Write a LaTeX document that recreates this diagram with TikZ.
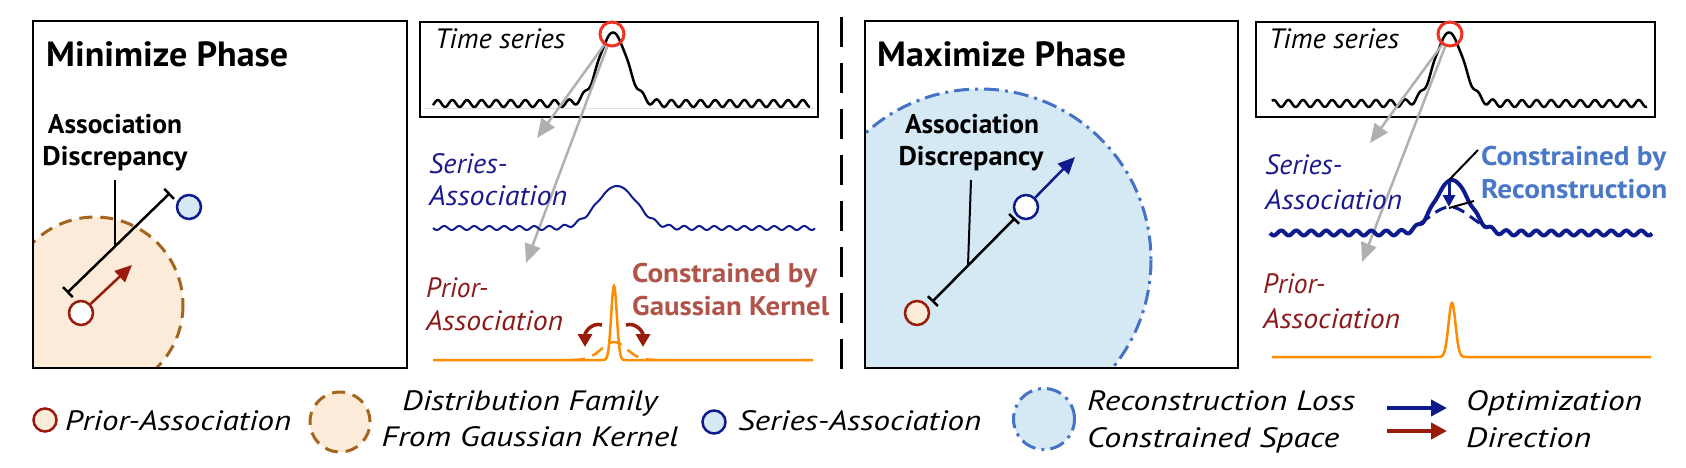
\documentclass[tikz,border=0pt]{standalone}
\usepackage{fontspec}
\usepackage{graphicx}
\setmainfont{PT Sans}
\usetikzlibrary{arrows.meta}
\newcommand{\mkwidth}[2]{\resizebox{#1}{\height}{#2}}
\definecolor{cdred}{HTML}{9A1B0A}
\definecolor{cdblue}{HTML}{0D1B8E}
\definecolor{cpeach}{HTML}{FCEBD9}
\definecolor{cbrown}{HTML}{A5641E}
\definecolor{clblue}{HTML}{D5E9F5}
\definecolor{cdashblue}{HTML}{4472C4}
\definecolor{cpriortext}{HTML}{8B1A1A}
\definecolor{cseriestext}{HTML}{1A1A8C}
\definecolor{cgausslbl}{HTML}{B0544A}
\definecolor{creconlbl}{HTML}{4A78C8}
\definecolor{corange}{HTML}{FF8C00}
\definecolor{cgray}{HTML}{B0B0B0}
\definecolor{cpeak}{HTML}{EE3322}
\begin{document}
\begin{tikzpicture}[x=1pt,y=-1pt,
  phasebox/.style={draw=black, line width=2.8pt},
  tsbox/.style={draw=black, line width=2pt},
  titletext/.style={font=\fontsize{35}{40}\selectfont\bfseries, anchor=base west, inner sep=0},
  adtext/.style={font=\fontsize{27}{30}\selectfont\bfseries, anchor=base, inner sep=0},
  lbltext/.style={font=\fontsize{28}{32}\selectfont\itshape, anchor=base west, inner sep=0},
  constext/.style={font=\fontsize{27}{30}\selectfont\bfseries, anchor=base west, inner sep=0},
  legtext/.style={font=\fontsize{28}{30}\selectfont\itshape, anchor=base west, inner sep=0},
  priorpt/.style={circle, draw=cdred, line width=2.5pt, minimum size=24pt, inner sep=0},
  seriespt/.style={circle, draw=cdblue, line width=2.5pt, minimum size=24pt, inner sep=0},
  peakcirc/.style={circle, draw=cpeak, line width=3pt, minimum size=24pt, inner sep=0},
  grayarrow/.style={draw=cgray, line width=2.5pt, -{Triangle[length=19pt,width=16pt]}},
  redarr/.style={draw=cdred, line width=2.5pt, -{Triangle[length=17pt,width=15pt]}},
  bluearr/.style={draw=cdblue, line width=2.5pt, -{Triangle[length=17pt,width=15pt]}},
  curvarr/.style={draw=cdred, line width=3.5pt, -{Triangle[length=13pt,width=14pt]}},
  discbar/.style={draw=black, line width=2.5pt, {Bar[width=14pt]}-{Bar[width=14pt]}},
  callout/.style={draw=black, line width=2pt},
  gaussdash/.style={dash pattern=on 13pt off 8pt},
  recondash/.style={dash pattern=on 15pt off 6pt on 3pt off 6pt},
]
\useasboundingbox (0,0) rectangle (1686,468);

% ---------------- Minimize panel ----------------
\begin{scope}
  \clip (33,21) rectangle (407,368);
  \filldraw[fill=cpeach, draw=cbrown, line width=3pt, gaussdash] (95,305) circle[radius=88];
\end{scope}
\draw[phasebox] (33,21) rectangle (407,368);
\node[titletext] (mintitle) at (46,67) {\mkwidth{242pt}{Minimize Phase}};
\node[adtext] (minad1) at (115,133) {\mkwidth{134pt}{Association}};
\node[adtext] (minad2) at (115,165) {\mkwidth{145pt}{Discrepancy}};
\coordinate (minbarA) at (67,293);
\coordinate (minbarB) at (170,193);
\coordinate (mincallTop) at (115,180);
\coordinate (mincallFoot) at (115,246.5);
\draw[callout] (mincallTop) -- (mincallFoot);
\draw[discbar] (minbarA) -- (minbarB);
\node[seriespt, fill=clblue] (minseries) at (189,207) {};
\node[priorpt, fill=white] (minprior) at (81,313) {};
\coordinate (minredtip) at (132,265);
\draw[redarr] (minprior) -- (minredtip);

% ---------------- Left time series ----------------
\draw[tsbox] (420,22) rectangle (818,117);
\draw[gray!25, line width=1pt] (425,109) -- (815,109);
\node[lbltext] (ts1) at (435,49) {\mkwidth{130pt}{Time series}};
\draw[black, line width=2.5pt, line join=round]
  plot[domain=433:810, samples=420, smooth]
  (\x, {103.5 - 71*exp(-(min(abs((\x-613)/20),5))^2) + 3.5*(1-exp(-(min(abs((\x-613)/20),5))^2))*sin(((\x-433)/14.6)*360+152)});
\node[peakcirc] (pk1) at (612,34) {};
\coordinate (ga1a) at (537,138);
\coordinate (ga1b) at (526,263);
\draw[grayarrow] (pk1) -- (ga1a);
\draw[grayarrow] (pk1) -- (ga1b);

\node[lbltext, text=cseriestext] (sa1a) at (429,173) {\mkwidth{78pt}{Series-}};
\node[lbltext, text=cseriestext] (sa1b) at (429,205) {\mkwidth{138pt}{Association}};
\draw[cdblue, line width=2pt]
  plot[domain=433:815, samples=400, smooth]
  (\x, {228 - 42*exp(-(min(abs((\x-617)/28),5))^2) + 2*(1-exp(-(min(abs((\x-617)/28),5))^2))*sin(((\x-433)/15)*360)});

\node[lbltext, text=cpriortext] (pa1a) at (426,297) {\mkwidth{62pt}{Prior-}};
\node[lbltext, text=cpriortext] (pa1b) at (426,330) {\mkwidth{137pt}{Association}};
\draw[corange, line width=2.5pt, gaussdash]
  plot[domain=572:656, samples=60, smooth] (\x, {360 - 18*exp(-((\x-614)/18)^2)});
\draw[corange, line width=2.5pt]
  (433,360) -- plot[domain=596:632, samples=73, smooth] (\x, {360 - 74*exp(-(min(abs((\x-614)/4),5))^2)}) -- (813,360);
\coordinate (cl1) at (602,325);
\coordinate (cl2) at (585,347);
\coordinate (cr1) at (626,325);
\coordinate (cr2) at (643,347);
\draw[curvarr] (cl1) .. controls (592,322) and (585,332) .. (cl2);
\draw[curvarr] (cr1) .. controls (636,322) and (643,332) .. (cr2);
\node[constext, text=cgausslbl] (gk1) at (632,282) {\mkwidth{185pt}{Constrained by}};
\node[constext, text=cgausslbl] (gk2) at (632,315) {\mkwidth{197pt}{Gaussian Kernel}};

% ---------------- Divider ----------------
\coordinate (divTop) at (841,17);
\coordinate (divBot) at (841,370);
\draw[black, line width=3pt, dash pattern=on 30pt off 16pt] (divTop) -- (divBot);

% ---------------- Maximize panel ----------------
\begin{scope}
  \clip (865,21) rectangle (1238,368);
  \filldraw[fill=clblue, draw=cdashblue, line width=3pt, recondash] (980,260) circle[radius=171];
\end{scope}
\draw[phasebox] (865,21) rectangle (1238,368);
\node[titletext] (maxtitle) at (877,67) {\mkwidth{249pt}{Maximize Phase}};
\node[adtext] (maxad1) at (972,133) {\mkwidth{134pt}{Association}};
\node[adtext] (maxad2) at (971,165) {\mkwidth{145pt}{Discrepancy}};
\coordinate (maxbarA) at (932,302);
\coordinate (maxbarB) at (1015,218);
\coordinate (maxcallTop) at (971,180);
\coordinate (maxcallFoot) at (968,265.5);
\draw[callout] (maxcallTop) -- (maxcallFoot);
\draw[discbar] (maxbarA) -- (maxbarB);
\node[priorpt, fill=cpeach] (maxprior) at (917,313) {};
\node[seriespt, fill=white] (maxseries) at (1026,207) {};
\coordinate (maxbluetip) at (1075,157);
\draw[bluearr] (maxseries) -- (maxbluetip);

% ---------------- Right time series ----------------
\draw[tsbox] (1256,22) rectangle (1655,117);
\node[lbltext] (ts2) at (1269,49) {\mkwidth{130pt}{Time series}};
\draw[black, line width=2.5pt, line join=round]
  plot[domain=1272:1647, samples=420, smooth]
  (\x, {103.5 - 71*exp(-(min(abs((\x-1449)/20),5))^2) + 3.5*(1-exp(-(min(abs((\x-1449)/20),5))^2))*sin(((\x-1272)/14.6)*360+226)});
\node[peakcirc] (pk2) at (1450,34) {};
\coordinate (ga2a) at (1370,143);
\coordinate (ga2b) at (1362,262);
\draw[grayarrow] (pk2) -- (ga2a);
\draw[grayarrow] (pk2) -- (ga2b);

\node[lbltext, text=cseriestext] (sa2a) at (1265,175) {\mkwidth{77pt}{Series-}};
\node[lbltext, text=cseriestext] (sa2b) at (1265,209) {\mkwidth{137pt}{Association}};
\draw[cdblue, line width=4pt]
  plot[domain=1270:1652, samples=420, smooth]
  (\x, {233 - 53*exp(-(min(abs((\x-1452)/24),5))^2) + 2.5*(1-exp(-(min(abs((\x-1452)/24),5))^2))*sin(((\x-1270)/15)*360)});
\draw[cdblue, line width=3pt, dash pattern=on 12pt off 7pt]
  plot[domain=1420:1484, samples=50, smooth] (\x, {233 - 26*exp(-((\x-1450)/30)^2)});
\coordinate (rcA) at (1449,182);
\coordinate (rcB) at (1449,207);
\draw[draw=cdblue, line width=3pt, -{Triangle[length=12pt,width=12pt]}] (rcA) -- (rcB);
\coordinate (rcl1a) at (1478,150);
\coordinate (rcl1b) at (1449,180);
\coordinate (rcl2a) at (1449,208);
\coordinate (rcl2b) at (1474,201);
\draw[callout] (rcl1a) -- (rcl1b);
\draw[callout] (rcl2a) -- (rcl2b);
\node[constext, text=creconlbl] (rc1) at (1481,165) {\mkwidth{185pt}{Constrained by}};
\node[constext, text=creconlbl] (rc2) at (1481,198) {\mkwidth{186pt}{Reconstruction}};

\node[lbltext, text=cpriortext] (pa2a) at (1263,293) {\mkwidth{62pt}{Prior-}};
\node[lbltext, text=cpriortext] (pa2b) at (1263,328) {\mkwidth{137pt}{Association}};
\draw[corange, line width=2.5pt]
  (1272,357) -- plot[domain=1436:1468, samples=65, smooth] (\x, {357 - 54*exp(-(min(abs((\x-1452)/5),5))^2)}) -- (1651,357);

% ---------------- Legend ----------------
\node[priorpt, fill=cpeach, minimum size=23pt] (legprior) at (45,420) {};
\node[legtext] (legpriortxt) at (65,430) {\mkwidth{226pt}{Prior-Association}};
\node[circle, fill=cpeach, draw=cbrown, line width=3pt, gaussdash, minimum size=60pt, inner sep=0] (leggauss) at (340,422) {};
\node[legtext, anchor=base] (leggauss1) at (530,410) {\mkwidth{255pt}{Distribution Family}};
\node[legtext, anchor=base] (leggauss2) at (530,446) {\mkwidth{297pt}{From Gaussian Kernel}};
\node[seriespt, fill=clblue, minimum size=23pt] (legseries) at (714,422) {};
\node[legtext] (legseriestxt) at (738,430) {\mkwidth{243pt}{Series-Association}};
\node[circle, fill=clblue, draw=cdashblue, line width=3pt, recondash, minimum size=61pt, inner sep=0] (legrecon) at (1044,419) {};
\node[legtext] (legrecon1) at (1087,410) {\mkwidth{268pt}{Reconstruction Loss}};
\node[legtext] (legrecon2) at (1087,447) {\mkwidth{252pt}{Constrained Space}};
\coordinate (legBa) at (1387,408);
\coordinate (legBb) at (1447,408);
\coordinate (legRa) at (1387,431);
\coordinate (legRb) at (1447,431);
\draw[draw=cdblue, line width=4pt, -{Triangle[length=16pt,width=16pt]}] (legBa) -- (legBb);
\draw[draw=cdred, line width=4pt, -{Triangle[length=16pt,width=16pt]}] (legRa) -- (legRb);
\node[legtext] (legopt1) at (1466,410) {\mkwidth{176pt}{Optimization}};
\node[legtext] (legopt2) at (1466,447) {\mkwidth{125pt}{Direction}};
\end{tikzpicture}
\end{document}
